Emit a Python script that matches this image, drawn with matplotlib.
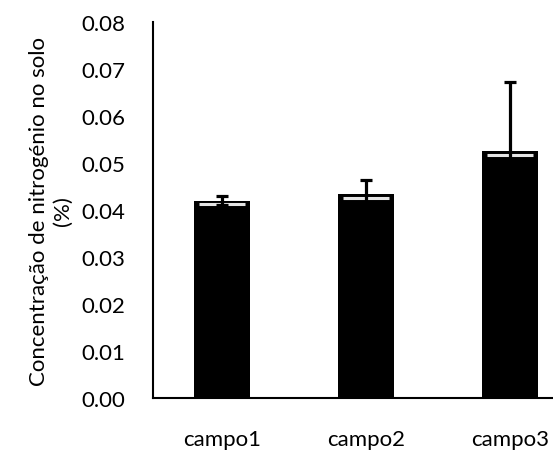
import numpy as np
import matplotlib
matplotlib.use('Agg')
import matplotlib.pyplot as plt

# nitrogen concentration per field, mean and error
campos = ['campo1', 'campo2', 'campo3']
azoto = [0.042, 0.0434, 0.0525]
erro = [0.001, 0.003, 0.0147]
yticks = [0.00, 0.01, 0.02, 0.03, 0.04, 0.05, 0.06, 0.07, 0.08]

plt.rcParams['font.family'] = ['Lato', 'DejaVu Sans']

fig = plt.figure(figsize=(5.53, 4.52), dpi=100)
ax = fig.add_axes([153 / 553, 1 - 399 / 452, 1 - 153 / 553, 376 / 452])

x = np.arange(len(campos))
ax.bar(x, azoto, width=0.39, color='black', zorder=2)
ax.errorbar(x, azoto, yerr=erro, fmt='none', ecolor='black',
            elinewidth=2.3, capsize=4.5, capthick=2.3, zorder=3)

# light bevel line just under each bar top
ax.hlines(np.array(azoto) - 0.0008, x - 0.16, x + 0.16,
          colors='#e4e4e4', linewidth=2.2, zorder=2.5)

ax.set_xlim(-0.48, 2.3)
ax.set_ylim(0, 0.08)
ax.set_yticks(yticks)
ax.set_yticklabels(['%.2f' % v for v in yticks], fontsize=16)
ax.set_xticks(x)
ax.set_xticklabels(campos, fontsize=16)
ax.tick_params(axis='y', length=0, pad=20)
ax.tick_params(axis='x', length=0, pad=22)

ax.set_ylabel('Concentração de nitrogénio no solo\n(%)', fontsize=16,
              linespacing=1.25, labelpad=6)

for s in ['top', 'right']:
    ax.spines[s].set_visible(False)
ax.spines['left'].set_linewidth(1.5)
ax.spines['bottom'].set_linewidth(1.5)

fig.savefig('out.png', dpi=100)
